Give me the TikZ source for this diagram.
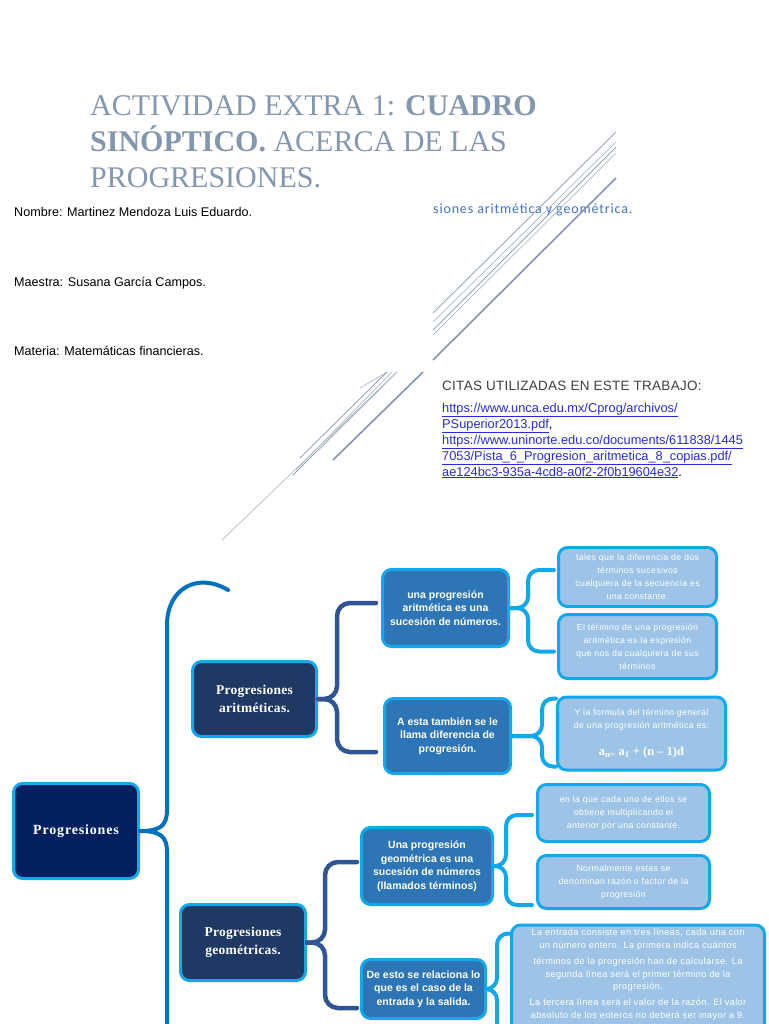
\documentclass[tikz,border=0pt]{standalone}
\usepackage{fontspec}
\setmainfont{Liberation Serif}
\setsansfont{Liberation Sans}
\newfontfamily\calib[LetterSpace=6]{Carlito}
\newfontfamily\leaffont[LetterSpace=4]{Liberation Sans}
\newfontfamily\citfont[LetterSpace=2]{Liberation Sans}
\newfontfamily\rootfont[LetterSpace=6]{Liberation Serif}
\newfontfamily\lonefont[LetterSpace=2]{Liberation Serif}
\usetikzlibrary{calc}
\definecolor{titlec}{HTML}{8497B0}
\definecolor{linec}{HTML}{8496B0}
\definecolor{linel}{HTML}{ADB9CA}
\definecolor{subc}{HTML}{4472C4}
\definecolor{citc}{HTML}{404040}
\definecolor{linkc}{HTML}{2B2BD9}
\definecolor{navy}{HTML}{002060}
\definecolor{dkblue}{HTML}{1F3864}
\definecolor{midblue}{HTML}{2E75B6}
\definecolor{lightb}{HTML}{9DC3E6}
\definecolor{bordc}{HTML}{12A9EC}
\definecolor{rootbr}{HTML}{0070C0}
\definecolor{lvbr}{HTML}{2F5597}
\definecolor{leafbr}{HTML}{12A9EC}
\begin{document}
\begin{tikzpicture}[x=1pt,y=-1pt,
  box/.style={draw=bordc, line width=3pt, rounded corners=9pt, text=white, align=center, inner sep=1pt},
  rootbox/.style={box, fill=navy, font=\rootfont\bfseries\fontsize{14}{16}\selectfont},
  lonebox/.style={box, fill=dkblue, font=\lonefont\bfseries\fontsize{13.5}{18}\selectfont},
  ltwobox/.style={box, fill=midblue, font=\sffamily\bfseries\fontsize{10.5}{13.5}\selectfont},
  leafbox/.style={box, fill=lightb, font=\leaffont\fontsize{8.8}{13}\selectfont},
  rbrace/.style={draw=rootbr, line width=4pt, line cap=round},
  lbrace/.style={draw=lvbr, line width=4.5pt, line cap=round, rounded corners=13pt},
  fbrace/.style={draw=leafbr, line width=4pt, line cap=round, rounded corners=11pt},
  infotext/.style={anchor=base west, inner sep=0pt, font=\sffamily\fontsize{12.6}{14}\selectfont},
  linktext/.style={anchor=base west, inner sep=0pt, text=linkc, font=\sffamily\fontsize{12.8}{14}\selectfont},
  thinl/.style={draw=linec, line width=0.7pt},
  thickl/.style={draw=linec, line width=1.6pt},
  faintl/.style={draw=linel, line width=0.7pt}
]
\useasboundingbox (0,0) rectangle (768,1024);
\clip (0,0) rectangle (768,1024);
\fill[white] (0,0) rectangle (768,1024);

% title
\node[anchor=base west, inner sep=0pt, text=titlec, font=\fontsize{30}{36}\selectfont] (t1) at (90,116) {ACTIVIDAD EXTRA 1: \textbf{CUADRO}};
\node[anchor=base west, inner sep=0pt, text=titlec, font=\fontsize{30}{36}\selectfont] (t2) at (90,152) {\textbf{SINÓPTICO.} ACERCA DE LAS};
\node[anchor=base west, inner sep=0pt, text=titlec, font=\fontsize{30}{36}\selectfont] (t3) at (90,188) {PROGRESIONES.};

% info
\node[infotext] (nom) at (14,217) {Nombre: Martinez Mendoza Luis Eduardo.};
\node[infotext] (mae) at (14,286) {Maestra: Susana García Campos.};
\node[infotext] (mat) at (14,355) {Materia: Matemáticas financieras.};
\node[anchor=base west, inner sep=0pt, text=subc, font=\calib\fontsize{14}{16}\selectfont] (sub) at (433,214) {siones aritmética y geométrica.};

% citations
\node[anchor=base west, inner sep=0pt, text=citc, font=\citfont\fontsize{13.5}{15}\selectfont] (cit) at (442,390) {CITAS UTILIZADAS EN ESTE TRABAJO:};
\node[linktext] (l1) at (442,412) {\underline{https://www.unca.edu.mx/Cprog/archivos/}};
\node[linktext] (l2) at (442,428) {\underline{PSuperior2013.pdf}\textcolor{black}{ ,}};
\node[linktext] (l3) at (442,444) {\underline{https://www.uninorte.edu.co/documents/611838/1445}};
\node[linktext] (l4) at (442,460) {\underline{7053/Pista\_6\_Progresion\_aritmetica\_8\_copias.pdf/}};
\node[linktext] (l5) at (442,476) {\underline{ae124bc3-935a-4cd8-a0f2-2f0b19604e32}\textcolor{black}{ .}};

% decorative diagonal lines
\draw[thinl] (433,313) -- (616,132);
\draw[faintl] (433,322) -- (616,142);
\draw[thinl] (433,330) -- (616,147);
\draw[faintl] (433,335) -- (616,153);
\draw[thickl] (433,360) -- (616,178);
\draw[faintl] (360,388) -- (387,372);
\draw[thinl] (300,458) -- (387,372);
\draw[faintl] (296,470) -- (392,372);
\draw[thinl] (293,475) -- (397,372);
\draw[thickl] (333,460) -- (423,372);
\draw[faintl] (222,540) -- (397,372);

% diagram nodes
\node[rootbox, minimum width=125pt, minimum height=95pt] (root) at (76,831) {Progresiones};
\node[lonebox, minimum width=124pt, minimum height=75pt] (arit) at (254.5,699) {Progresiones\\aritméticas.};
\node[lonebox, minimum width=125pt, minimum height=76pt] (geo) at (243,942.5) {Progresiones\\geométricas.};
\node[ltwobox, minimum width=126pt, minimum height=77pt] (a1) at (445.5,608) {una progresión\\aritmética es una\\sucesión de números.};
\node[ltwobox, minimum width=126pt, minimum height=75pt] (a2) at (447.5,736) {A esta también se le\\llama diferencia de\\progresión.};
\node[leafbox, minimum width=158pt, minimum height=59pt] (a1x) at (637.5,577) {tales que la diferencia de dos\\términos sucesivos\\cualquiera de la secuencia es\\una constante.};
\node[leafbox, minimum width=158pt, minimum height=64pt] (a1y) at (637.5,646.5) {El término de una progresión\\aritmética es la expresión\\que nos da cualquiera de sus\\términos};
\node[leafbox, minimum width=168pt, minimum height=73pt, anchor=north] (a2x) at (641.5,695.5) {Y la formula del término general\\de una progresión aritmética es:\\[14pt]{\rmfamily\bfseries\fontsize{12.5}{14}\selectfont a\textsubscript{n=} a\textsubscript{1} + (n – 1)d}};
\node[ltwobox, minimum width=131pt, minimum height=77pt] (g1) at (427,866) {Una progresión\\geométrica es una\\sucesión de números\\(llamados términos)};
\node[ltwobox, minimum width=124pt, minimum height=59pt] (g2) at (423.5,989) {De esto se relaciona lo\\que es el caso de la\\entrada y la salida.};
\node[leafbox, minimum width=172pt, minimum height=57pt] (g1x) at (623.5,813) {en la que cada uno de ellos se\\obtiene multiplicando el\\anterior por una constante.};
\node[leafbox, minimum width=172pt, minimum height=53pt] (g1y) at (623.5,882) {Normalmente estas se\\denominan razón o factor de la\\progresión};
\node[leafbox, minimum width=253pt, minimum height=112pt, anchor=north, inner sep=0pt, font=\leaffont\fontsize{9.2}{12.8}\selectfont] (g2x) at (638,923.5) {La entrada consiste en tres líneas, cada una con\\un número entero. La primera indica cuántos\\[3pt]términos de la progresión han de calcularse. La\\segunda línea será el primer término de la\\progresión.\\[3pt]La tercera línea será el valor de la razón. El valor\\absoluto de los enteros no deberá ser mayor a 9.\\[2pt]\mbox{}};

% braces
\draw[rbrace] (root.east) .. controls (160,831) and (167,826) .. (167,810) -- (167,625) .. controls (167,588) and (198,572) .. (228,590);
\draw[rbrace] (root.east) .. controls (160,831) and (167,836) .. (167,852) -- (167,1040);
\coordinate (at1) at ($(a1.west)+(-5,-5)$);
\coordinate (ab1) at ($(a2.west)+(-7,16)$);
\draw[lbrace] (arit.east) -- ++(19,0) |- (at1);
\draw[lbrace] (arit.east) -- ++(19,0) |- (ab1);
\coordinate (gt1) at ($(g1.west)+(-3,-4)$);
\coordinate (gb1) at ($(g2.west)+(-3,19)$);
\draw[lbrace] (geo.east) -- ++(18,0) |- (gt1);
\draw[lbrace] (geo.east) -- ++(18,0) |- (gb1);
\coordinate (xt1) at ($(a1x.west)+(-3,-7)$);
\coordinate (xb1) at ($(a1y.west)+(-3,5)$);
\draw[fbrace] (a1.east) -- ++(18,0) |- (xt1);
\draw[fbrace] (a1.east) -- ++(18,0) |- (xb1);
\coordinate (yt1) at ($(a2x.north west)+(0,3)$);
\coordinate (yb1) at ($(a2x.south west)+(0,-5)$);
\draw[fbrace] (a2.east) -- ++(30,0) |- (yt1);
\draw[fbrace] (a2.east) -- ++(30,0) |- (yb1);
\coordinate (zt1) at ($(g1x.west)+(-4,2)$);
\coordinate (zb1) at ($(g1y.west)+(-4,23)$);
\draw[fbrace] (g1.east) -- ++(12,0) |- (zt1);
\draw[fbrace] (g1.east) -- ++(12,0) |- (zb1);
\coordinate (wt1) at ($(g2x.north west)+(0,10)$);
\draw[fbrace] (g2.east) -- ++(10,0) |- (wt1);
\draw[fbrace] (g2.east) -- ++(10,0) -- ++(0,60);
\end{tikzpicture}
\end{document}
